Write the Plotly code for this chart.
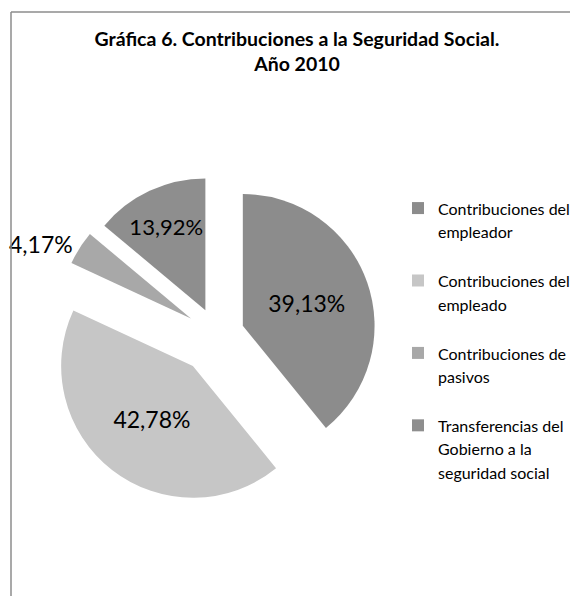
import plotly.graph_objects as go

label_lines = [
    ["Contribuciones del", "empleador"],
    ["Contribuciones del", "empleado"],
    ["Contribuciones de", "pasivos"],
    ["Transferencias del", "Gobierno a la", "seguridad social"],
]
values = [39.13, 42.78, 4.17, 13.92]
colors = ["#8c8c8c", "#c6c6c6", "#a8a8a8", "#8e8e8e"]
pulls = [0.208, 0.298, 0.234, 0.208]
text_positions = ["inside", "inside", "outside", "inside"]

W, H = 570, 596
cx, cy, half = 217, 335, 171
LEG_TEXT = 16

labels = []
for i, lines in enumerate(label_lines):
    body = "<br>".join(f"<span style='font-size:{LEG_TEXT}px'>{t}</span>" for t in lines)
    if i < len(label_lines) - 1:
        body += "<br>\u00a0"
    labels.append(body)

fig = go.Figure(
    go.Pie(
        labels=labels,
        values=values,
        sort=False,
        direction="clockwise",
        rotation=0,
        pull=pulls,
        marker=dict(colors=colors, line=dict(width=0)),
        texttemplate="%{percent:.2%}",
        textposition=text_positions,
        insidetextorientation="horizontal",
        insidetextfont=dict(family="Lato", size=23, color="#000000"),
        outsidetextfont=dict(family="Lato", size=23, color="#000000"),
        domain=dict(
            x=[(cx - half) / W, (cx + half) / W],
            y=[1 - (cy + half) / H, 1 - (cy - half) / H],
        ),
        hoverinfo="percent",
    )
)

border = dict(color="#8c8c8c", width=1.5)

fig.update_layout(
    width=W,
    height=H,
    margin=dict(l=0, r=0, t=0, b=0, autoexpand=False),
    paper_bgcolor="white",
    plot_bgcolor="white",
    separators=",.",
    font=dict(family="Lato", color="#000000"),
    title=dict(
        text="<b>Gráfica 6. Contribuciones a la Seguridad Social.<br>Año 2010</b>",
        x=297 / W,
        xanchor="center",
        y=1 - 46 / H,
        yanchor="top",
        font=dict(family="Lato", size=19.5, color="#000000"),
    ),
    legend=dict(
        x=398 / W,
        xanchor="left",
        y=1 - 190 / H,
        yanchor="top",
        valign="top",
        font=dict(family="Lato", size=17.8, color="#000000"),
        bgcolor="rgba(0,0,0,0)",
    ),
    showlegend=True,
    shapes=[
        dict(type="line", xref="paper", yref="paper",
             x0=11 / W, x1=1.0, y0=1 - 12 / H, y1=1 - 12 / H, line=border),
        dict(type="line", xref="paper", yref="paper",
             x0=11 / W, x1=11 / W, y0=0.0, y1=1 - 12 / H, line=border),
    ],
)

fig.write_html("out.html")
